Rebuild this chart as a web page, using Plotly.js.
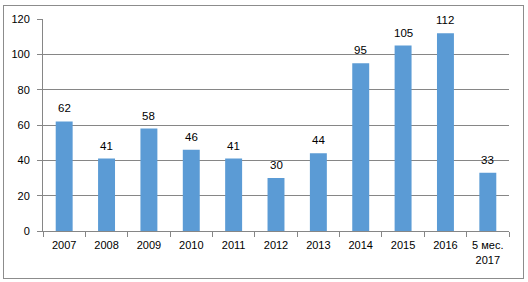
<!DOCTYPE html>
<html><head><meta charset="utf-8">
<script src="https://cdn.plot.ly/plotly-3.0.1.min.js"></script>
<style>
html,body{margin:0;padding:0;background:#fff;}
#wrap{position:relative;width:528px;height:282px;}
#chart{position:absolute;left:0;top:0;width:528px;height:282px;}
#frame{position:absolute;left:3px;top:5px;width:519px;height:272px;border:1px solid #8c8c8c;pointer-events:none;}
</style></head>
<body>
<div id="wrap"><div id="chart"></div><div id="frame"></div></div>
<script>
const categories = ["2007","2008","2009","2010","2011","2012","2013","2014","2015","2016","5 мес.<br>2017"];
const values = [62, 41, 58, 46, 41, 30, 44, 95, 105, 112, 33];
const yTicks = [0, 20, 40, 60, 80, 100, 120];

const fontFam = "Liberation Sans, Arial, sans-serif";
const labels = categories.map((c, i) => ({
  x: i, y: values[i], xref: "x", yref: "y",
  text: String(values[i]), showarrow: false,
  yanchor: "bottom", yshift: 5,
  font: {family: fontFam, size: 11.5, color: "#000"}
}));
Plotly.newPlot("chart", [{
  type: "bar",
  x: categories,
  y: values,
  marker: {color: "#5b9bd5"},
  hoverinfo: "none"
}], {
  width: 528, height: 282,
  margin: {l: 43, r: 19, t: 19, b: 51},
  paper_bgcolor: "rgba(0,0,0,0)",
  plot_bgcolor: "#fff",
  bargap: 0.6,
  showlegend: false,
  annotations: labels,
  font: {family: fontFam, size: 11, color: "#000"},
  xaxis: {
    type: "category",
    range: [-0.5, categories.length - 0.5],
    showgrid: false,
    showline: true, linecolor: "#868686", linewidth: 1,
    ticks: "outside", tickson: "boundaries", ticklen: 5, tickcolor: "#868686",
    ticklabelstandoff: 4,
    tickfont: {family: fontFam, size: 11, color: "#000"}
  },
  yaxis: {
    range: [0, 120],
    tickvals: yTicks,
    ticktext: yTicks.map(String),
    showgrid: true, gridcolor: "#868686", gridwidth: 1,
    showline: true, linecolor: "#868686", linewidth: 1,
    ticks: "outside", ticklen: 5, tickcolor: "#868686",
    ticklabelstandoff: 5,
    zeroline: false,
    tickfont: {family: fontFam, size: 11, color: "#000"}
  }
}, {staticPlot: true, displayModeBar: false});
</script>
</body></html>
